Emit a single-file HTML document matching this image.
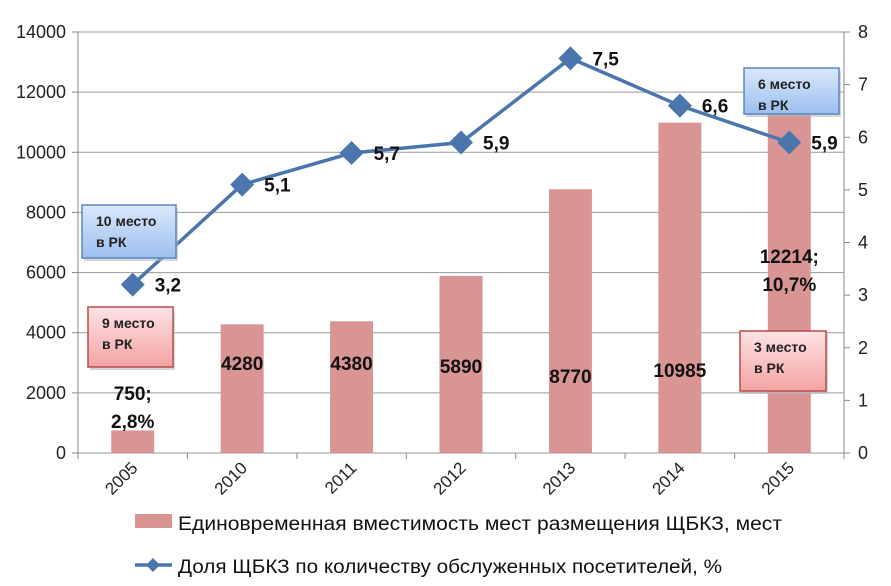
<!DOCTYPE html>
<html><head><meta charset="utf-8"><style>
body{margin:0;background:#fff}
svg{display:block;font-family:"Liberation Sans",sans-serif}
</style></head><body>
<svg id="chart" width="891" height="586"></svg>
<script>
const categories=["2005","2010","2011","2012","2013","2014","2015"];
const barValues=[750,4280,4380,5890,8770,10985,12214];
const barLabels=[["750;","2,8%"],["4280"],["4380"],["5890"],["8770"],["10985"],["12214;","10,7%"]];
const lineValues=[3.2,5.1,5.7,5.9,7.5,6.6,5.9];
const lineLabels=["3,2","5,1","5,7","5,9","7,5","6,6","5,9"];
const leftTicks=[0,2000,4000,6000,8000,10000,12000,14000];
const rightTicks=[0,1,2,3,4,5,6,7,8];

const NS="http://www.w3.org/2000/svg";
const svg=document.getElementById('chart');
const X0=78,X1=844,Y0=453,Y1=32;
const band=(X1-X0)/categories.length;
const xC=i=>X0+band*(i+0.5);
const yL=v=>Y0-(v/14000)*(Y0-Y1);
const yR=v=>Y0-(v/8)*(Y0-Y1);
function el(t,a,p){const e=document.createElementNS(NS,t);for(const k in a)e.setAttribute(k,a[k]);(p||svg).appendChild(e);return e;}

const defs=el('defs',{});
defs.innerHTML='<linearGradient id="gb" x1="0" y1="0" x2="0" y2="1"><stop offset="0" stop-color="#dbe8fb"/><stop offset="1" stop-color="#9cbff0"/></linearGradient><linearGradient id="gr" x1="0" y1="0" x2="0" y2="1"><stop offset="0" stop-color="#fde3e3"/><stop offset="1" stop-color="#f4a3a3"/></linearGradient>';

leftTicks.forEach(v=>{
  const g=el('line',{x1:X0,x2:X1,y1:yL(v),y2:yL(v),stroke:'#9a9a9a','stroke-width':1});
  
  
  el('line',{x1:X0-6,x2:X0,y1:yL(v),y2:yL(v),stroke:'#8a8a8a'});
  const t=el('text',{x:X0-12,y:yL(v)+6,'text-anchor':'end','font-size':18,fill:'#222'});
  t.textContent=v;
  
  
});
rightTicks.forEach(v=>{
  el('line',{x1:X1,x2:X1+6,y1:yR(v),y2:yR(v),stroke:'#8a8a8a'});
  const t=el('text',{x:X1+14,y:yR(v)+6,'font-size':18,fill:'#222'});
  t.textContent=v;
  
  
});
el('line',{x1:X0,x2:X0,y1:Y1,y2:Y0,stroke:'#8a8a8a'});
el('line',{x1:X1,x2:X1,y1:Y1,y2:Y0,stroke:'#8a8a8a'});
for(let i=0;i<=categories.length;i++)el('line',{x1:X0+band*i,x2:X0+band*i,y1:Y0,y2:Y0+6,stroke:'#8a8a8a'});

barValues.forEach((v,i)=>{
  const b=el('rect',{x:xC(i)-21.5,y:yL(v),width:43,height:Y0-yL(v),fill:'#d99594'});
  
  
});
categories.forEach((c,i)=>{
  const t=el('text',{x:xC(i)+6,y:Y0+16,'text-anchor':'end','font-size':17,fill:'#222',transform:`rotate(-45 ${xC(i)+6} ${Y0+16})`});
  t.textContent=c;
  
  
});
const barLabelY=[400,370,370,373,383,377,263];
barLabels.forEach((ls,i)=>{
  ls.forEach((s,j)=>{
    const t=el('text',{x:xC(i),y:barLabelY[i]+j*28,'text-anchor':'middle','font-size':19,'font-weight':'bold',fill:'#111'});
    t.textContent=s;
    
    
  });
});
const pts=lineValues.map((v,i)=>xC(i)+','+yR(v)).join(' ');
const pl=el('polyline',{points:pts,fill:'none',stroke:'#4a76ad','stroke-width':3.5});



function box(x,y,w,h,fill,stroke,l1,name){
  const g=el('g',{});
  
  
  el('rect',{x:x+2,y:y+3,width:w,height:h,fill:'#bbb',opacity:0.6},g);
  el('rect',{x:x,y:y,width:w,height:h,fill:fill,stroke:stroke,'stroke-width':1.5},g);
  const t1=el('text',{x:x+14,y:y+21,'font-size':14,'font-weight':'bold',fill:'#222'},g);t1.textContent=l1;
  const t2=el('text',{x:x+14,y:y+42,'font-size':14,'font-weight':'bold',fill:'#222'},g);t2.textContent='в РК';
}
box(82,205,94,53,'url(#gb)','#5a86c0','10 место','box-10-place');
box(88,307,85,60,'url(#gr)','#b84a4a','9 место','box-9-place');
box(744,68,95,46,'url(#gb)','#5a86c0','6 место','box-6-place');
box(740,331,86,60,'url(#gr)','#b84a4a','3 место','box-3-place');

lineValues.forEach((v,i)=>{
  const x=xC(i),y=yR(v);
  const d=el('polygon',{points:`${x},${y-12} ${x+12},${y} ${x},${y+12} ${x-12},${y}`,fill:'#4a76ad'});
  
  
  const t=el('text',{x:x+22,y:y+7,'font-size':19,'font-weight':'bold',fill:'#111'});
  t.textContent=lineLabels[i];
  
  
});

const l1=el('g',{});


el('rect',{x:135,y:514,width:37,height:14,fill:'#d99594'},l1);
const lt1=el('text',{x:178,y:530,'font-size':19,fill:'#111',textLength:604,lengthAdjust:'spacingAndGlyphs'},l1);
lt1.textContent='Единовременная вместимость мест размещения ЩБКЗ, мест';
const l2=el('g',{});


el('line',{x1:135,x2:172,y1:565,y2:565,stroke:'#4a76ad','stroke-width':3.5},l2);
el('polygon',{points:'153,558 160,565 153,572 146,565',fill:'#4a76ad'},l2);
const lt2=el('text',{x:178,y:573,'font-size':19,fill:'#111',textLength:544,lengthAdjust:'spacingAndGlyphs'},l2);
lt2.textContent='Доля ЩБКЗ по количеству обслуженных посетителей, %';
</script>
</body></html>
